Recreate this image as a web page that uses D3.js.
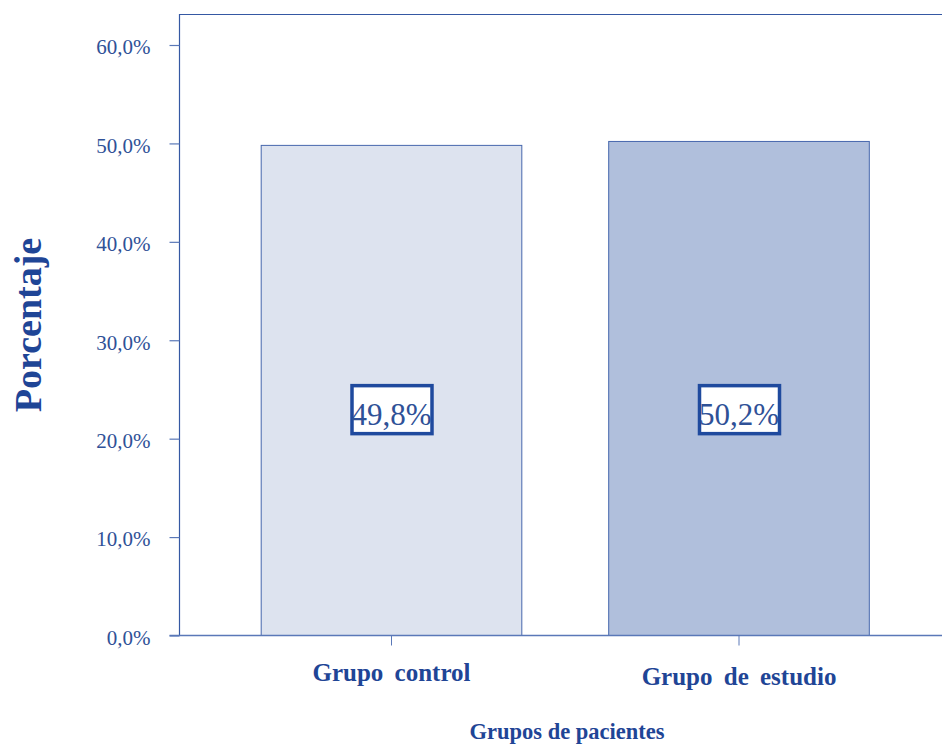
<!DOCTYPE html>
<html>
<head>
<meta charset="utf-8">
<script src="https://cdn.jsdelivr.net/npm/d3@7"></script>
<style>
  html, body { margin: 0; padding: 0; background: #fff; }
  svg { display: block; }
  text { font-family: "Liberation Serif", "Times New Roman", serif; }
</style>
</head>
<body>
<svg id="chart" width="942" height="745"></svg>
<script>
// Patient groups and their share (%)
const categories = ["Grupo control", "Grupo de estudio"];
const percentages = [49.8, 50.2];
const barColors = ["#dde3ef", "#b0bfdc"];
const yTicks = [0, 10, 20, 30, 40, 50, 60];
const labelLevel = 23; // height (in %) where the value boxes sit

const svg = d3.select("#chart");
const axisColor = "#3558a3";
const textColor = "#2f5197";
const titleColor = "#1f4596";

const plotLeft = 179.5, plotTop = 14.5, plotRight = 942;
const y = d3.scaleLinear().domain([0, 60]).range([635.5, 45]);
const x = d3.scaleBand()
  .domain(categories)
  .range([217.75, 912.75])
  .paddingInner(0.25)
  .paddingOuter(0.125);

const fmt = v => d3.format(".1f")(v).replace(".", ",") + "%";

// frame: left and top edges
svg.append("path")
  .attr("d", `M${plotLeft},${y(0)}V${plotTop}H${plotRight}`)
  .attr("fill", "none")
  .attr("stroke", axisColor)
  .attr("stroke-width", 1.2);

// bars
svg.selectAll("rect.bar")
  .data(categories)
  .join("rect")
  .attr("class", "bar")
  .attr("x", d => x(d))
  .attr("width", x.bandwidth())
  .attr("y", (d, i) => y(percentages[i]))
  .attr("height", (d, i) => y(0) - y(percentages[i]))
  .attr("fill", (d, i) => barColors[i])
  .attr("stroke", "#4667ad")
  .attr("stroke-width", 1);

// y axis
const yAxis = svg.append("g")
  .attr("transform", `translate(${plotLeft},0)`)
  .call(d3.axisLeft(y).tickValues(yTicks).tickFormat(fmt).tickSize(10).tickPadding(19));
yAxis.select(".domain").remove();
yAxis.selectAll(".tick line").attr("stroke", "#5a78b8").attr("stroke-width", 1.2);
yAxis.selectAll(".tick text")
  .attr("fill", textColor)
  .attr("font-size", 21)
  .attr("dy", "0.42em")
  .attr("font-family", "Liberation Serif, serif");

// x axis
const xAxis = svg.append("g")
  .attr("transform", `translate(0,${y(0)})`)
  .call(d3.axisBottom(x).tickSize(10).tickSizeOuter(0).tickPadding(18));
xAxis.select(".domain")
  .attr("d", `M${plotLeft - 10},0H${plotRight}`)
  .attr("stroke", "#5a78b8")
  .attr("stroke-width", 1.5);
xAxis.selectAll(".tick line").attr("stroke", "#5a78b8").attr("stroke-width", 1);
xAxis.selectAll(".tick text")
  .attr("fill", titleColor)
  .attr("font-size", 25)
  .attr("font-weight", "bold")
  .attr("font-family", "Liberation Serif, serif")
  .attr("word-spacing", 5);
xAxis.selectAll(".tick").filter((d, i) => i === 1).select("text").attr("dy", "0.87em");

// value labels in boxes
const labels = svg.selectAll("g.vlabel")
  .data(categories)
  .join("g")
  .attr("class", "vlabel")
  .attr("transform", d => `translate(${x(d) + x.bandwidth() / 2},${y(labelLevel)})`);
labels.append("rect")
  .attr("x", -39.5).attr("y", -23.5)
  .attr("width", 80).attr("height", 48)
  .attr("fill", "#fff")
  .attr("stroke", "#1f4a9e")
  .attr("stroke-width", 3.5);
labels.append("text")
  .attr("text-anchor", "middle")
  .attr("y", 16)
  .attr("font-size", 31)
  .attr("fill", textColor)
  .text((d, i) => fmt(percentages[i]));

// axis titles
svg.append("text")
  .attr("x", 567).attr("y", 739)
  .attr("text-anchor", "middle")
  .attr("font-size", 22.5)
  .attr("font-weight", "bold")
  .attr("fill", titleColor)
  .text("Grupos de pacientes");

svg.append("text")
  .attr("transform", "translate(41,325) rotate(-90)")
  .attr("text-anchor", "middle")
  .attr("font-size", 38)
  .attr("font-weight", "bold")
  .attr("fill", titleColor)
  .text("Porcentaje");
</script>
</body>
</html>
